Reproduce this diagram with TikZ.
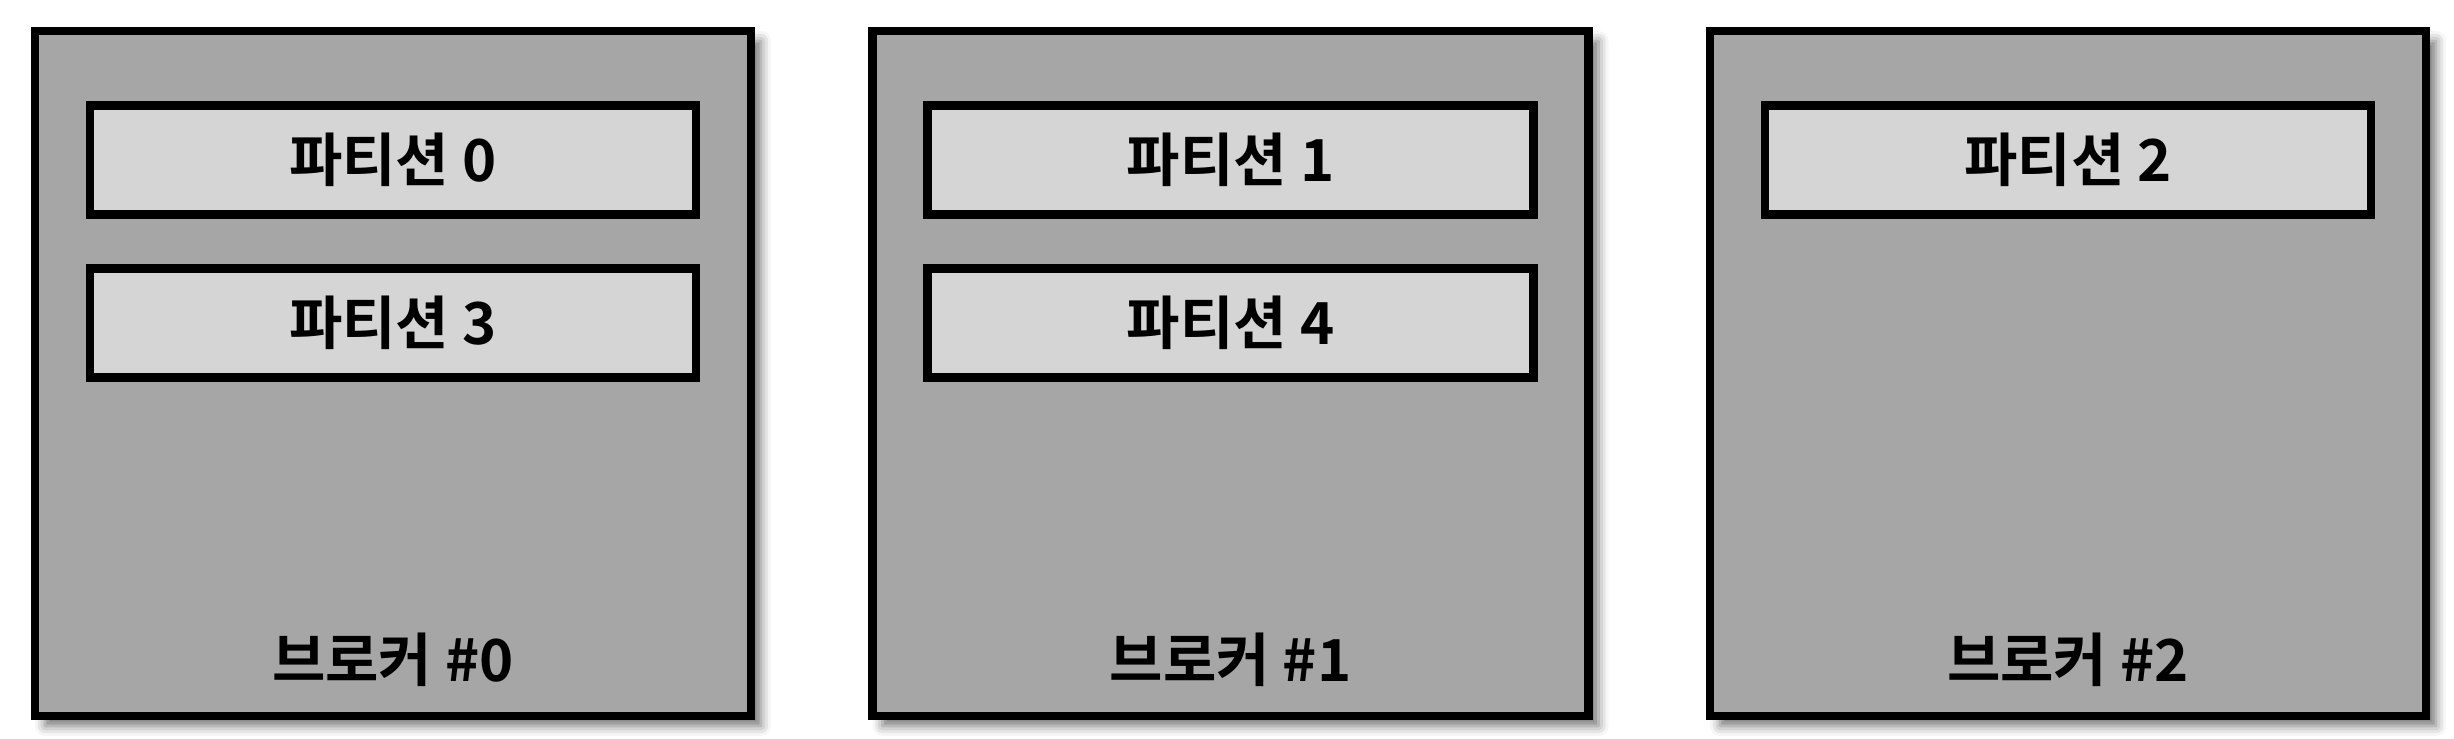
\documentclass[tikz,border=0pt]{standalone}
\usepackage{fontspec}
\newfontfamily\kofont{Noto Sans CJK KR}[UprightFont=* Bold]
\usetikzlibrary{shadows.blur}
\definecolor{brokergray}{HTML}{A6A6A6}
\definecolor{partgray}{HTML}{D5D5D5}
\begin{document}
\begin{tikzpicture}
  % Define broker box, partition box and title style
  \tikzstyle{mybroker} = [draw=black, fill=brokergray, line width=2.3pt,
  rectangle, inner sep=0pt, minimum width=7.16cm, minimum height=6.85cm,
  blur shadow={shadow xshift=0.1cm, shadow yshift=-0.1cm,
    shadow blur radius=0.1cm, shadow opacity=55}]
  \tikzstyle{mypartition} = [draw=black, fill=partgray, line width=2.3pt,
  rectangle, inner sep=0pt, minimum width=6.06cm, minimum height=1.09cm,
  font=\kofont\fontsize{16.5}{19}\selectfont]
  \tikzstyle{brokertitle} = [inner sep=0pt, font=\kofont\fontsize{16.5}{19}\selectfont]

  \useasboundingbox (0,0) rectangle (24.54,-7.38);

  \node [mybroker] (broker0) at (3.93,-3.735) {};
  \node [mybroker] (broker1) at (12.305,-3.735) {};
  \node [mybroker] (broker2) at (20.68,-3.735) {};

  \node [mypartition] (part0) at ([yshift=-1.33cm]broker0.north) {파티션 0};
  \node [mypartition] (part3) at ([yshift=-2.96cm]broker0.north) {파티션 3};
  \node [mypartition] (part1) at ([yshift=-1.33cm]broker1.north) {파티션 1};
  \node [mypartition] (part4) at ([yshift=-2.96cm]broker1.north) {파티션 4};
  \node [mypartition] (part2) at ([yshift=-1.33cm]broker2.north) {파티션 2};

  \node [brokertitle] (title0) at ([yshift=0.6cm]broker0.south) {브로커 \#0};
  \node [brokertitle] (title1) at ([yshift=0.6cm]broker1.south) {브로커 \#1};
  \node [brokertitle] (title2) at ([yshift=0.6cm]broker2.south) {브로커 \#2};
\end{tikzpicture}
\end{document}
